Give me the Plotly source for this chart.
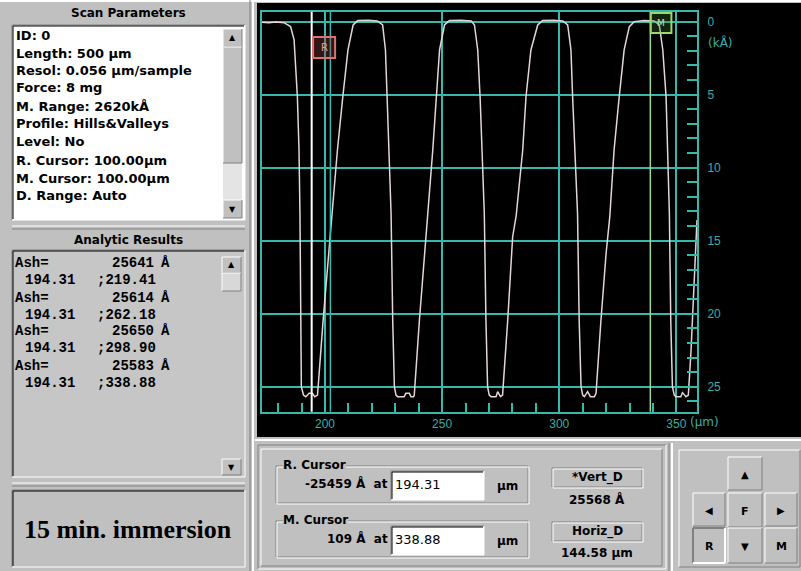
import plotly.graph_objects as go

# ---------------- data ----------------
x_um = [173.1, 176.0, 179.0, 182.5, 185.3, 186.8, 188.2, 188.9, 189.3, 189.6, 189.9, 190.8, 191.8, 193.2, 194.6, 195.6, 196.8,
        199.2, 201.5, 203.0, 205.3, 207.6, 209.8, 212.0, 214.0, 218.5, 222.3,
        224.6, 225.8, 226.5, 227.5, 228.2, 228.9, 229.6, 230.3, 231.0, 233.8, 234.5, 236.0, 236.7, 237.8, 238.1,
        240.3, 242.4, 243.8, 246.0, 247.4, 248.9, 251.0, 253.1, 258.0, 262.4,
        263.8, 265.2, 266.2, 267.3, 268.0, 268.7, 269.4, 270.1, 270.9, 273.0, 273.7, 274.9, 275.8,
        278.0, 280.1, 281.6, 284.4, 285.8, 287.9, 290.8, 292.9, 297.5, 301.5,
        303.6, 305.0, 305.7, 307.1, 307.8, 308.5, 309.3, 310.0, 310.7, 312.1, 313.3, 315.0, 315.7,
        317.8, 320.0, 321.6, 323.4, 325.6, 327.7, 329.9, 332.0, 336.2, 340.6,
        342.7, 344.2, 345.6, 346.3, 347.0, 347.6, 348.3, 349.1, 349.8, 351.9, 352.6, 354.1, 355.1,
        356.2, 357.6, 358.8]
depth_kA = [0.05, 0.08, 0.03, 0.07, 0.34, 1.25, 5.14, 8.79, 13.12, 20.43, 25.0, 25.57, 25.68, 25.45, 25.45, 25.68, 25.57,
            20.43, 15.86, 13.5, 8.79, 5.14, 1.94, 0.23, -0.07, -0.10, -0.05,
            0.23, 1.94, 5.14, 9.93, 13.12, 20.43, 25.0, 25.57, 25.68, 25.68, 25.45, 25.45, 25.68, 25.68, 25.57,
            20.43, 15.86, 13.3, 8.79, 5.14, 1.94, 0.23, -0.07, -0.10, -0.05,
            0.23, 1.94, 5.14, 9.93, 13.12, 20.43, 25.0, 25.57, 25.68, 25.68, 25.34, 25.68, 25.57,
            20.43, 14.73, 13.3, 8.79, 5.14, 1.94, 0.23, -0.07, -0.10, -0.05,
            0.23, 1.94, 5.14, 9.93, 13.12, 20.43, 25.0, 25.57, 25.68, 25.34, 25.68, 25.68, 25.45,
            20.43, 15.86, 13.3, 8.79, 5.14, 1.94, 0.34, 0.0, -0.08, -0.05,
            0.23, 1.94, 5.14, 9.93, 13.12, 20.43, 25.0, 25.57, 25.68, 25.68, 25.4, 25.68, 25.57,
            22.7, 18.15, 13.58]

r_cursor_um = 194.31
m_cursor_um = 338.88
aux_line_um = 202.3
x_range = [173.1, 358.8]
y_range = [26.71, -0.68]
x_tickvals = [200, 250, 300, 350]
x_ticktext = ["200", "250", "300", "350"]
y_tickvals = [0, 5, 10, 15, 20, 25]
y_ticktext = ["0", "5", "10", "15", "20", "25"]

scan_params = ["ID: 0", "Length: 500 µm", "Resol: 0.056 µm/sample", "Force: 8 mg",
               "M. Range: 2620kÅ", "Profile: Hills&Valleys", "Level: No",
               "R. Cursor: 100.00µm", "M. Cursor: 100.00µm", "D. Range: Auto"]
ash_values = ["25641", "25614", "25650", "25583"]
ash_from = ["194.31", "194.31", "194.31", "194.31"]
ash_to = ["219.41", "262.18", "298.90", "338.88"]

r_cursor_value = "-25459 Å  at"
m_cursor_value = "109 Å  at"
r_cursor_text = "194.31"
m_cursor_text = "338.88"
vert_d = "25568 Å"
horiz_d = "144.58 µm"
caption = "15 min. immersion"

# ---------------- styling ----------------
W, H = 801, 571
GRAY = "#c0c0c0"
DARK = "#808080"
WHITE = "#ffffff"
BLACK = "#000000"
TEAL = "#36b9ad"
TEAL_TXT = "#3aaea4"
SANS = "DejaVu Sans"
MONO = "Liberation Mono"
SERIF = "Liberation Serif"

shapes = []
anns = []


def esc(s):
    return s.replace("&", "&amp;")


def line_px(x0, y0, x1, y1, color, w=1):
    shapes.append(dict(type="line", xref="paper", yref="paper",
                       x0=x0 / W, y0=1 - y0 / H, x1=x1 / W, y1=1 - y1 / H,
                       line=dict(color=color, width=w), layer="above"))


def rect_px(x0, y0, x1, y1, fill, layer="above"):
    shapes.append(dict(type="rect", xref="paper", yref="paper",
                       x0=x0 / W, x1=x1 / W, y0=1 - y1 / H, y1=1 - y0 / H,
                       fillcolor=fill, line=dict(width=0), layer=layer))


def bevel(x0, y0, x1, y1, raised=True, fill=GRAY, w=1):
    rect_px(x0, y0, x1, y1, fill)
    tl = WHITE if raised else DARK
    br = DARK if raised else WHITE
    line_px(x0, y0, x1, y0, tl, w)
    line_px(x0, y0, x0, y1, tl, w)
    line_px(x0, y1, x1, y1, br, w)
    line_px(x1, y0, x1, y1, br, w)


def inset_box(x0, y0, x1, y1, fill):
    rect_px(x0, y0, x1, y1, fill)
    line_px(x0, y0, x1, y0, DARK, 1)
    line_px(x0, y0, x0, y1, DARK, 1)
    line_px(x0 + 1, y0 + 1, x1 - 1, y0 + 1, BLACK, 1)
    line_px(x0 + 1, y0 + 1, x0 + 1, y1 - 1, BLACK, 1)
    line_px(x0, y1, x1, y1, WHITE, 1)
    line_px(x1, y0, x1, y1, WHITE, 1)


def etched(x0, y0, x1, y1):
    for c, d in ((DARK, 0), (WHITE, 1)):
        line_px(x0 + d, y0 + d, x1 + d, y0 + d, c)
        line_px(x0 + d, y0 + d, x0 + d, y1 + d, c)
        line_px(x0 + d, y1 + d, x1 + d, y1 + d, c)
        line_px(x1 + d, y0 + d, x1 + d, y1 + d, c)


def txt(x, y, s, size=12, anchor="left", family=SANS, color=BLACK, bold=False, bg=None):
    t = esc(s)
    if bold:
        t = "<b>%s</b>" % t
    anns.append(dict(xref="paper", yref="paper", x=x / W, y=1 - y / H, text=t,
                     showarrow=False, xanchor=anchor, yanchor="middle",
                     font=dict(size=size, family=family, color=color),
                     bgcolor=bg if bg else "rgba(0,0,0,0)", borderpad=0, borderwidth=0))


# ---------------- UI chrome ----------------
rect_px(257, 3, 801, 437, BLACK, layer="below")
line_px(0, 1, 801, 1, WHITE, 2)
line_px(250, 0, 250, 571, DARK, 1)
line_px(253, 0, 253, 571, WHITE, 2)
line_px(255, 440, 801, 440, WHITE, 2)

# Scan Parameters
txt(128, 13, "Scan Parameters", 12, "center", bold=True)
inset_box(12, 25, 245, 220, WHITE)
param_y = [35, 53, 71, 88, 106, 124, 142, 160, 178, 196]
for s, yy in zip(scan_params, param_y):
    txt(16, yy, s, 13, bold=True)
rect_px(223, 29, 242, 218, "#e4e4e4")
bevel(223, 29, 242, 47)
txt(232.5, 38, "▲", 8, "center")
bevel(223, 47, 242, 163)
bevel(223, 200, 242, 218)
txt(232.5, 209, "▼", 8, "center")
line_px(12, 226, 245, 226, WHITE, 1)
line_px(12, 229, 245, 229, DARK, 1)

# Analytic Results
txt(128, 240, "Analytic Results", 12, "center", bold=True)
inset_box(12, 250, 245, 477, "#c6c6c6")
ash_y = [263, 280, 298, 315, 331, 348, 366, 383]
for i in range(4):
    y1 = ash_y[2 * i]
    y2 = ash_y[2 * i + 1]
    txt(15, y1, "Ash=", 14, family=MONO, bold=True)
    txt(154, y1, ash_values[i], 14, "right", family=MONO, bold=True)
    txt(161, y1, "Å", 14, family=MONO, bold=True)
    txt(25, y2, ash_from[i], 14, family=MONO, bold=True)
    txt(97, y2, ";" + ash_to[i], 14, family=MONO, bold=True)
bevel(222, 257, 241, 273)
txt(231.5, 265, "▲", 8, "center")
bevel(222, 273, 241, 291, fill="#d8d8d8")
bevel(222, 459, 241, 475)
txt(231.5, 467, "▼", 8, "center")
line_px(12, 483, 245, 483, WHITE, 1)
line_px(12, 486, 245, 486, DARK, 1)

# caption box
inset_box(12, 490, 245, 567, GRAY)
txt(128, 529, caption, 26, "center", family=SERIF, bold=True)

# bottom centre panel
bevel(258, 445, 666, 569, raised=False)
bevel(261, 449, 662, 566, raised=True)
etched(276, 466, 528, 503)
etched(276, 521, 528, 557)
txt(283, 465, "R. Cursor", 12, bold=True, bg=GRAY)
txt(283, 520, "M. Cursor", 12, bold=True, bg=GRAY)
txt(388, 483, r_cursor_value, 12, "right", bold=True)
txt(388, 538, m_cursor_value, 12, "right", bold=True)
inset_box(391, 471, 484, 500, WHITE)
inset_box(391, 526, 484, 555, WHITE)
txt(395, 484, r_cursor_text, 13)
txt(395, 539, m_cursor_text, 13)
txt(497, 486, "µm", 12, bold=True)
txt(497, 541, "µm", 12, bold=True)
etched(552, 468, 642, 487)
etched(552, 522, 642, 541)
txt(597, 477, "*Vert_D", 12, "center", bold=True)
txt(597, 499, vert_d, 12, "center", bold=True)
txt(597, 531, "Horiz_D", 12, "center", bold=True)
txt(597, 553, horiz_d, 12, "center", bold=True)

# button pad
line_px(669, 443, 669, 571, DARK, 1)
line_px(672, 443, 672, 571, WHITE, 2)
bevel(679, 450, 800, 567, raised=True)
buttons = [(728, 457, 762, 490, "▲", True), (693, 493, 725, 526, "◀", True),
           (728, 493, 762, 527, "F", True), (765, 493, 797, 526, "▶", True),
           (693, 528, 725, 563, "R", False), (728, 528, 762, 563, "▼", True),
           (765, 528, 797, 563, "M", True)]
for bx0, by0, bx1, by1, lab, up in buttons:
    bevel(bx0, by0, bx1, by1, raised=up, w=2 if not up else 1)
    sz = 10 if lab in "▲▼◀▶" else 11
    txt((bx0 + bx1) / 2, (by0 + by1) / 2 + 1, lab, sz, "center", bold=lab not in "▲▼◀▶")

# ---------------- the profile plot ----------------
fig = go.Figure()
fig.add_trace(go.Scatter(x=x_um, y=depth_kA, mode="lines",
                         line=dict(color="#e4d6d6", width=1.5), hoverinfo="skip"))

shapes.append(dict(type="line", xref="x", yref="y domain", x0=aux_line_um, x1=aux_line_um, y0=0, y1=1,
                   line=dict(color=TEAL, width=1.5), layer="above"))
shapes.append(dict(type="line", xref="x", yref="y domain", x0=r_cursor_um, x1=r_cursor_um, y0=0, y1=1,
                   line=dict(color=WHITE, width=2), layer="above"))
shapes.append(dict(type="line", xref="x", yref="y domain", x0=m_cursor_um, x1=m_cursor_um, y0=0, y1=1,
                   line=dict(color="#9ed89a", width=1.5), layer="above"))
shapes.append(dict(type="rect", xref="x", yref="y", x0=r_cursor_um + 0.6, x1=r_cursor_um + 10.0, y0=1.05, y1=2.49,
                   line=dict(color="#e07070", width=2), fillcolor="rgba(150,60,60,0.35)", layer="above"))
shapes.append(dict(type="rect", xref="x", yref="y", x0=m_cursor_um + 0.2, x1=m_cursor_um + 9.0, y0=-0.59, y1=0.77,
                   line=dict(color="#9ad86a", width=2), fillcolor="rgba(60,120,60,0.3)", layer="above"))
anns.append(dict(xref="x", yref="y", x=r_cursor_um + 5.3, y=1.77, text="R", showarrow=False,
                 font=dict(size=10, family=SANS, color="#e8a0a0")))
anns.append(dict(xref="x", yref="y", x=m_cursor_um + 4.6, y=0.09, text="M", showarrow=False,
                 font=dict(size=9, family=SANS, color="#b8e8b0")))
txt(690, 422, "(µm)", 12, color=TEAL_TXT)
txt(708, 42, "(kÅ)", 12, color=TEAL_TXT)

fig.update_layout(
    width=W, height=H, autosize=False,
    margin=dict(l=0, r=0, t=0, b=0),
    paper_bgcolor=GRAY, plot_bgcolor=BLACK,
    showlegend=False,
    shapes=shapes, annotations=anns,
    xaxis=dict(domain=[262 / W, 697 / W], range=x_range,
               tickmode="array", tickvals=x_tickvals, ticktext=x_ticktext,
               showgrid=True, gridcolor=TEAL, gridwidth=1.5,
               ticks="inside", ticklen=9, tickcolor=TEAL, tickwidth=1.5,
               showline=True, mirror=True, linecolor=TEAL, linewidth=2,
               tickfont=dict(size=12, family="Liberation Sans", color=TEAL_TXT),
               zeroline=False,
               minor=dict(tickmode="linear", tick0=0, dtick=10, ticks="inside", ticklen=9,
                          tickcolor=TEAL, tickwidth=1.5, showgrid=False)),
    yaxis=dict(domain=[(H - 411.7) / H, (H - 11.7) / H], range=y_range, side="right",
               tickmode="array", tickvals=y_tickvals, ticktext=y_ticktext,
               showgrid=True, gridcolor=TEAL, gridwidth=1.5,
               ticks="inside", ticklen=10, tickcolor=TEAL, tickwidth=1.5,
               showline=True, mirror=True, linecolor=TEAL, linewidth=2,
               tickfont=dict(size=12, family="Liberation Sans", color=TEAL_TXT),
               ticklabelstandoff=6, zeroline=False,
               minor=dict(tickmode="linear", tick0=0, dtick=1, ticks="inside", ticklen=10,
                          tickcolor=TEAL, tickwidth=1.5, showgrid=False)),
)

fig.write_html("out.html", config={"displayModeBar": False},
               post_script="document.body.style.margin='0px';document.body.style.overflow='hidden';")
